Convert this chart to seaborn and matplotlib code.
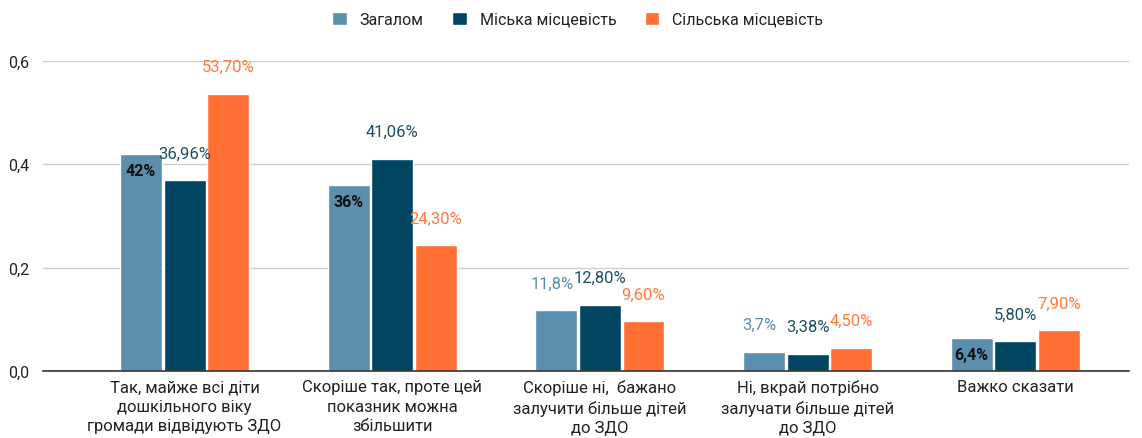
import matplotlib
matplotlib.use("Agg")
import matplotlib.pyplot as plt
import seaborn as sns
import pandas as pd
from matplotlib.ticker import FuncFormatter

# categories and series
categories = [
    "Так, майже всі діти\nдошкільного віку\nгромади відвідують ЗДО",
    "Скоріше так, проте цей\nпоказник можна\nзбільшити",
    "Скоріше ні,  бажано\nзалучити більше дітей\nдо ЗДО",
    "Ні, вкрай потрібно\nзалучати більше дітей\nдо ЗДО",
    "Важко сказати",
]
series = ["Загалом", "Міська місцевість", "Сільська місцевість"]

total = [0.42, 0.36, 0.118, 0.037, 0.064]
urban = [0.3696, 0.4106, 0.128, 0.0338, 0.058]
rural = [0.537, 0.243, 0.096, 0.045, 0.079]

total_labels = ["42%", "36%", "11,8%", "3,7%", "6,4%"]
urban_labels = ["36,96%", "41,06%", "12,80%", "3,38%", "5,80%"]
rural_labels = ["53,70%", "24,30%", "9,60%", "4,50%", "7,90%"]

colors = ["#5b8fad", "#024562", "#ff6f33"]
label_colors = ["#5b8fb0", "#1f4f68", "#ff7a3d"]

df = pd.DataFrame({
    "cat": categories * 3,
    "series": [s for s in series for _ in categories],
    "val": total + urban + rural,
})

sns.set_theme(style="white")
plt.rcParams["font.family"] = ["Roboto", "DejaVu Sans"]

fig = plt.figure(figsize=(11.42, 4.39), dpi=100)
ax = fig.add_axes([0.038, 0.1526, 0.951, 0.7062])

sns.barplot(data=df, x="cat", y="val", hue="series", palette=colors,
            width=0.63, gap=0.04, ax=ax, legend=True, saturation=1)

ax.set_ylim(0, 0.6)
ax.set_xlim(-0.68, 4.55)
ax.set_yticks([0, 0.2, 0.4, 0.6])
ax.yaxis.set_major_formatter(FuncFormatter(lambda v, p: f"{v:.1f}".replace(".", ",")))
ax.grid(axis="y", color="#d0d0d0", linewidth=1)
ax.set_axisbelow(True)
for s in ["top", "right", "left"]:
    ax.spines[s].set_visible(False)
ax.spines["bottom"].set_color("#333333")
ax.spines["bottom"].set_linewidth(1.2)
ax.tick_params(axis="y", length=0, labelsize=11.5, labelcolor="#222222", pad=10)
ax.tick_params(axis="x", length=0, labelsize=12, labelcolor="#222222", pad=6)
ax.set_xlabel("")
ax.set_ylabel("")
for t in ax.get_xticklabels():
    t.set_linespacing(1.35)

# data labels
all_labels = [total_labels, urban_labels, rural_labels]
all_vals = [total, urban, rural]
inside_total = [0, 1, 4]
for si, cont in enumerate(ax.containers[:3]):
    for ci, bar in enumerate(cont):
        x = bar.get_x() + bar.get_width() / 2
        v = all_vals[si][ci]
        if si == 0 and ci in inside_total:
            ax.annotate(total_labels[ci], (x, v), xytext=(0, -12), textcoords="offset points",
                        ha="center", va="center", fontsize=11.5, fontweight="bold",
                        color="#111111")
        else:
            dx = -3 if si == 0 else 0
            ax.annotate(all_labels[si][ci], (x, v), xytext=(dx, 19.5), textcoords="offset points",
                        ha="center", va="center", fontsize=12, color=label_colors[si],
                        annotation_clip=False)

handles, labels = ax.get_legend_handles_labels()
ax.legend_.remove()
fig.legend(handles, labels, loc="center", bbox_to_anchor=(0.506, 0.954), ncol=3,
           frameon=False, fontsize=11.5, handlelength=0.9, handleheight=0.9,
           columnspacing=1.8, handletextpad=0.8, labelcolor="#222222")

fig.savefig("out.png", dpi=100)
